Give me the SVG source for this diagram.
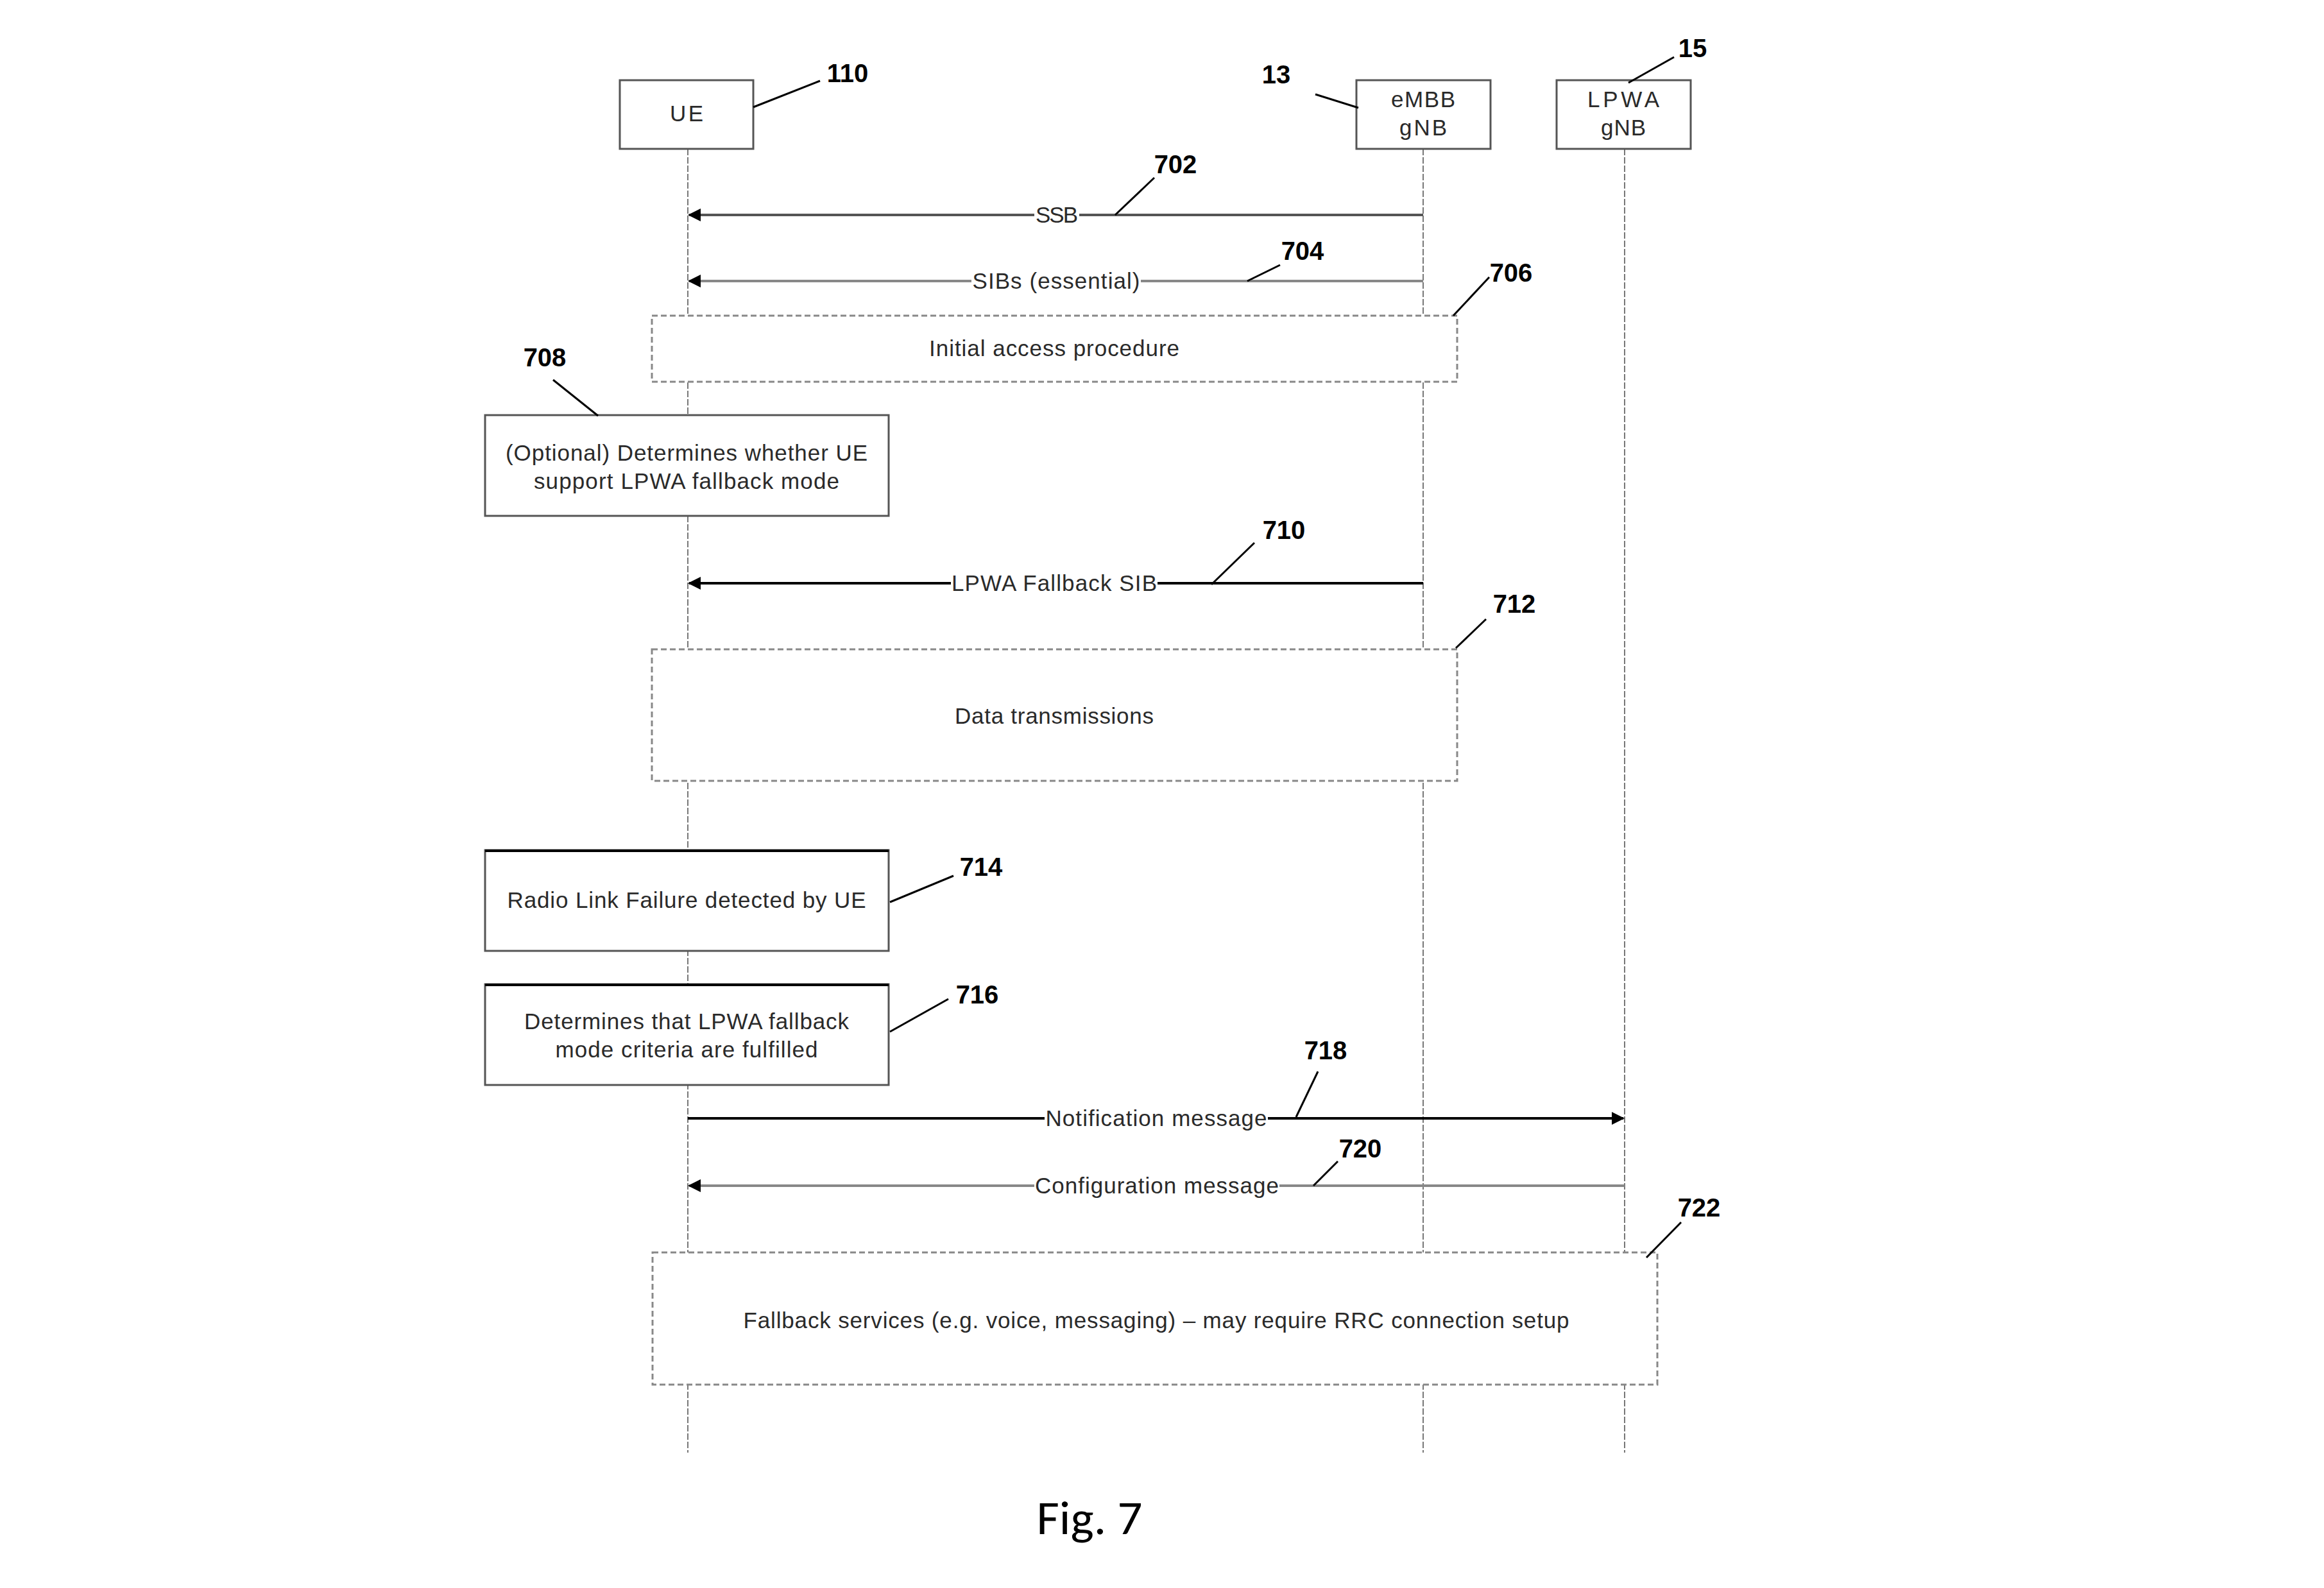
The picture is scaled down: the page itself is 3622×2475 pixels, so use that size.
<svg xmlns="http://www.w3.org/2000/svg" width="3622" height="2475" viewBox="0 0 3622 2475">
<style>
.t{font-family:"Liberation Sans",Arial,sans-serif;font-size:35px;fill:#2a2a2a;text-anchor:middle}
.n{font-family:"Liberation Sans",Arial,sans-serif;font-size:40px;font-weight:bold;fill:#000;text-anchor:middle}
.hdr{fill:#fff;stroke:#555;stroke-width:3}
.proc{fill:#fff;stroke:#555;stroke-width:3}
.grp{fill:#fff;stroke:#888;stroke-width:3;stroke-dasharray:9 5}
.life{stroke:#777;stroke-width:2;stroke-dasharray:10 3;fill:none}
.lead{stroke:#000;stroke-width:3;fill:none}
.m1{stroke:#555;stroke-width:4;fill:none;marker-end:url(#ah)}
.m2{stroke:#888;stroke-width:4;fill:none;marker-end:url(#ah)}
.m3{stroke:#000;stroke-width:4;fill:none;marker-end:url(#ah)}
.lb{fill:#fff}
</style>
<defs>
<marker id="ah" viewBox="0 0 10 10" refX="9" refY="5" markerWidth="5" markerHeight="5" orient="auto" markerUnits="strokeWidth">
<path d="M0,0 L10,5 L0,10 z" fill="#000"/>
</marker>
</defs>
<rect width="3622" height="2475" fill="#fff"/>

<g id="lifelines">
<line class="life" x1="1072" y1="232" x2="1072" y2="2264"/>
<line class="life" x1="2218" y1="232" x2="2218" y2="2264"/>
<line class="life" x1="2532" y1="232" x2="2532" y2="2264"/>
</g>

<g id="ue">
<rect class="hdr" x="966" y="125" width="208" height="107"/>
<text class="t" x="1070" y="189" textLength="52">UE</text>
</g>
<g id="embb">
<rect class="hdr" x="2114" y="125" width="209" height="107"/>
<text class="t" x="2218" y="167" textLength="100">eMBB</text>
<text class="t" x="2218" y="211" textLength="74">gNB</text>
</g>
<g id="lpwa">
<rect class="hdr" x="2426" y="125" width="209" height="107"/>
<text class="t" x="2530" y="167" textLength="112">LPWA</text>
<text class="t" x="2530" y="211" textLength="70">gNB</text>
</g>

<g id="connectors">
<line class="m1" x1="2218" y1="335" x2="1074" y2="335"/>
<line class="m2" x1="2218" y1="438" x2="1074" y2="438"/>
<line class="m3" x1="2218" y1="909" x2="1074" y2="909"/>
<line class="m3" x1="1072" y1="1743" x2="2530" y2="1743"/>
<line class="m2" x1="2532" y1="1848" x2="1074" y2="1848"/>
<rect class="lb" x="1612" y="315" width="70" height="40"/>
<text class="t" x="1647" y="347" textLength="66">SSB</text>
<rect class="lb" x="1514" y="417" width="264" height="42"/>
<text class="t" x="1646" y="450" textLength="261">SIBs (essential)</text>
<rect class="lb" x="1482" y="888" width="322" height="42"/>
<text class="t" x="1643" y="921" textLength="320">LPWA Fallback SIB</text>
<rect class="lb" x="1628" y="1722" width="348" height="42"/>
<text class="t" x="1802" y="1755" textLength="345">Notification message</text>
<rect class="lb" x="1612" y="1827" width="382" height="42"/>
<text class="t" x="1803" y="1860" textLength="380">Configuration message</text>
</g>

<g id="n706">
<rect class="grp" x="1016" y="492" width="1255" height="103"/>
<text class="t" x="1643" y="555" textLength="390">Initial access procedure</text>
</g>
<g id="n708">
<rect class="proc" x="756" y="647" width="629" height="157"/>
<text class="t" x="1070" y="718" textLength="564">(Optional) Determines whether UE</text>
<text class="t" x="1070" y="762" textLength="476">support LPWA fallback mode</text>
</g>
<g id="n712">
<rect class="grp" x="1016" y="1012" width="1255" height="205"/>
<text class="t" x="1643" y="1128" textLength="310">Data transmissions</text>
</g>
<g id="n714">
<rect class="proc" x="756" y="1325" width="629" height="157"/>
<line x1="756" y1="1326" x2="1385" y2="1326" stroke="#000" stroke-width="4"/>
<text class="t" x="1070" y="1415" textLength="559">Radio Link Failure detected by UE</text>
</g>
<g id="n716">
<rect class="proc" x="756" y="1534" width="629" height="157"/>
<line x1="756" y1="1535" x2="1385" y2="1535" stroke="#000" stroke-width="4"/>
<text class="t" x="1070" y="1604" textLength="506">Determines that LPWA fallback</text>
<text class="t" x="1070" y="1648" textLength="409">mode criteria are fulfilled</text>
</g>
<g id="n722">
<rect class="grp" x="1017" y="1952" width="1566" height="206"/>
<text class="t" x="1802" y="2070" textLength="1287">Fallback services (e.g. voice, messaging) – may require RRC connection setup</text>
</g>

<g id="refs">
<line class="lead" x1="1174" y1="167" x2="1278" y2="126"/>
<text class="n" x="1321" y="128">110</text>
<line class="lead" x1="2050" y1="147" x2="2117" y2="168"/>
<text class="n" x="1989" y="130">13</text>
<line class="lead" x1="2609" y1="89" x2="2538" y2="129"/>
<text class="n" x="2638" y="89">15</text>
<line class="lead" x1="1799" y1="277" x2="1738" y2="335"/>
<text class="n" x="1832" y="270">702</text>
<line class="lead" x1="1995" y1="413" x2="1944" y2="438"/>
<text class="n" x="2030" y="405">704</text>
<line class="lead" x1="2321" y1="432" x2="2265" y2="492"/>
<text class="n" x="2355" y="439">706</text>
<line class="lead" x1="862" y1="592" x2="932" y2="648"/>
<text class="n" x="849" y="571">708</text>
<line class="lead" x1="1955" y1="846" x2="1888" y2="911"/>
<text class="n" x="2001" y="840">710</text>
<line class="lead" x1="2316" y1="965" x2="2269" y2="1010"/>
<text class="n" x="2360" y="955">712</text>
<line class="lead" x1="1486" y1="1365" x2="1387" y2="1406"/>
<text class="n" x="1529" y="1365">714</text>
<line class="lead" x1="1478" y1="1557" x2="1387" y2="1608"/>
<text class="n" x="1523" y="1564">716</text>
<line class="lead" x1="2054" y1="1670" x2="2020" y2="1741"/>
<text class="n" x="2066" y="1651">718</text>
<line class="lead" x1="2085" y1="1810" x2="2047" y2="1848"/>
<text class="n" x="2120" y="1804">720</text>
<line class="lead" x1="2620" y1="1905" x2="2566" y2="1960"/>
<text class="n" x="2648" y="1896">722</text>
</g>

<text x="1698" y="2391" font-family="Carlito,'Liberation Sans',Arial,sans-serif" font-size="74" fill="#000" text-anchor="middle" textLength="165" lengthAdjust="spacingAndGlyphs">Fig. 7</text>
</svg>
